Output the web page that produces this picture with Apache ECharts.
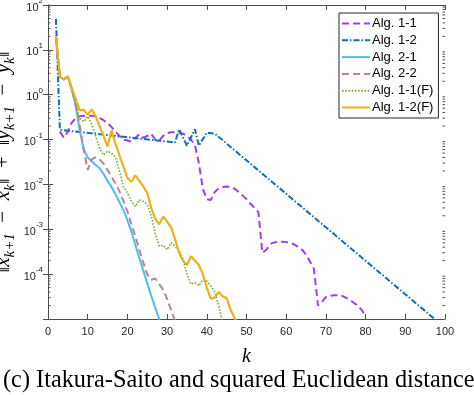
<!DOCTYPE html>
<html>
<head>
<meta charset="utf-8">
<script src="https://cdn.jsdelivr.net/npm/echarts@6/dist/echarts.min.js"></script>
<style>html,body{margin:0;padding:0;background:#fff}#c{width:474px;height:395px}</style>
</head>
<body>
<div id="c"></div>
<script>
// ---- data (k, value) ----
const seriesNames = ['Alg. 1-1', 'Alg. 1-2', 'Alg. 2-1', 'Alg. 2-2', 'Alg. 1-1(F)', 'Alg. 1-2(F)'];

const k_a11 = [3,4,5,6,7,8,9,10,11,12,13,14,15,16,17,18,19,20,21,22,23,24,25,26,27,28,29,30,31,32,33,34,35,36,37,38,39,40,41,42,43,44,45,46,47,48,49,50,51,52,53,54,55,56,57,58,59,60,61,62,63,64,65,66,67,68,69,70,71,72,73,74,75,76,77,78,79,80];
const v_a11 = [0.15,0.11,0.15,0.24,0.3,0.33,0.34,0.34,0.34,0.33,0.3,0.27,0.23,0.19,0.15,0.12,0.1,0.095,0.09,0.11,0.13,0.11,0.12,0.135,0.1,0.095,0.12,0.14,0.145,0.145,0.14,0.135,0.12,0.1,0.075,0.03,0.008,0.0047,0.0045,0.0068,0.0082,0.0088,0.009,0.0088,0.008,0.0068,0.0057,0.0047,0.0037,0.003,0.0024,0.0003,0.00035,0.00047,0.00051,0.00053,0.00053,0.00052,0.0005,0.00046,0.0004,0.00035,0.00027,0.00019,0.00013,0.00002,0.000024,0.000031,0.000033,0.000034,0.000034,0.000033,0.00003,0.000027,0.000023,0.00002,0.000016,0.0000115];

const k_a12 = [2,3,32,33,35,37,38,40,42,98];
const v_a12 = [49,0.165,0.086,0.17,0.073,0.17,0.073,0.143,0.136,0.000009];

const k_a21 = [2,3,4,5,6,7,8,9,10,11,12,13,14,15,16,17,18,19,20,21,22,23,24,25,26,27,28,29];
const v_a21 = [19.5,2.5,2.2,2.5,1.3,0.55,0.16,0.06,0.04,0.033,0.027,0.023,0.017,0.012,0.0088,0.006,0.004,0.0027,0.0016,0.0009,0.00045,0.00023,0.00012,0.000063,0.000033,0.000018,0.00001,0.0000055];

const k_a22 = [2,3,4,5,6,7,8,9,10,11,12,13,14,15,16,17,18,19,20,21,22,23,24,25,26,27,28,29,30,31,32];
const v_a22 = [19.5,2.5,2.2,2.5,1.3,0.6,0.2,0.06,0.021,0.036,0.04,0.036,0.029,0.021,0.015,0.0105,0.007,0.0043,0.0025,0.0013,0.0007,0.00035,0.00018,0.0001,0.000075,0.00008,0.00006,0.000045,0.000028,0.000016,0.000009];

const k_a11f = [2,3,4,5,6,7,8,9,10,11,12,13,14,15,16,17,18,19,20,21,22,23,24,25,26,27,28,29,30,31,32,33,34,35,36,37,38,39,40,41,42,43,44];
const v_a11f = [19.5,2.5,2.2,2.5,1.3,0.65,0.3,0.25,0.33,0.22,0.12,0.065,0.045,0.055,0.05,0.04,0.02,0.009,0.0065,0.0042,0.0032,0.0045,0.0042,0.0036,0.002,0.0008,0.00042,0.00044,0.00035,0.0005,0.00042,0.00033,0.00022,0.0001,0.00006,0.000065,0.000055,0.000075,0.00007,0.000055,0.00004,0.00002,0.000008];

const k_a12f = [2,3,4,5,6,7,8,9,10,11,12,13,14,15,16,17,18,19,20,21,22,23,24,25,26,27,28,29,30,31,32,33,34,35,36,37,38,39,40,41,42,43,44,45,46,47,48];
const v_a12f = [19.8,2.5,2.2,2.6,1.4,0.8,0.45,0.46,0.36,0.47,0.33,0.2,0.12,0.07,0.16,0.08,0.045,0.025,0.014,0.0115,0.016,0.012,0.009,0.0065,0.003,0.0017,0.0013,0.0019,0.0015,0.0011,0.0006,0.0003,0.0002,0.00016,0.00025,0.0002,0.00016,0.0001,0.00005,0.000028,0.00003,0.00004,0.000032,0.000029,0.000016,0.0000105,0.000007];

const xTicks = [0,10,20,30,40,50,60,70,80,90,100];
const yMin = 1e-5, yMax = 1e2;
const yDecades = [-5,-4,-3,-2,-1,0,1];
const minorMult = [2,3,4,5,6,7,8,9];

// ---- build ----
function zip(ks, vs){ return ks.map((k,i)=>[k, vs[i]]); }
const dataSets = [zip(k_a11,v_a11), zip(k_a12,v_a12), zip(k_a21,v_a21), zip(k_a22,v_a22), zip(k_a11f,v_a11f), zip(k_a12f,v_a12f)];
const styles = [
  {color:'#a23ef2', width:2, type:[7,4]},
  {color:'#0f6fb8', width:2, type:[6,2,1.5,2]},
  {color:'#4dbeee', width:2, type:'solid'},
  {color:'#bf8291', width:2, type:[7,4]},
  {color:'#77ac30', width:1.6, type:[1.6,1.6]},
  {color:'#edb120', width:2.2, type:'solid'}
];
const minorVals = [];
yDecades.forEach(e => minorMult.forEach(m => minorVals.push([0, m * Math.pow(10, e)])));

const axisCol = '#4d4d4d';
const labelCol = '#262626';

function yLab(v){
  const e = Math.round(Math.log10(v));
  if (e <= -5) return '';
  return '{b|10}{s|' + e + '}';
}

const chart = echarts.init(document.getElementById('c'), null, {renderer:'canvas'});
chart.setOption({
  animation: false,
  backgroundColor: '#fff',
  grid: {left:48, top:5, width:397, height:314, containLabel:false, outerBoundsMode:'none'},
  legend: {
    orient:'vertical', left:339, top:13,
    data: seriesNames,
    itemWidth:28, itemHeight:14, itemGap:3.8,
    padding:[4,5,4,2],
    itemStyle:{opacity:0},
    borderColor:'#262626', borderWidth:1, backgroundColor:'#fff',
    textStyle:{fontFamily:'Liberation Sans', fontSize:13, color:'#000', padding:[0,0,0,-3]}
  },
  xAxis: [{
    type:'value', min:0, max:100, interval:10, position:'bottom',
    axisLine:{lineStyle:{color:axisCol, width:1}},
    axisTick:{inside:true, length:5, lineStyle:{color:axisCol}},
    axisLabel:{fontFamily:'Liberation Sans', fontSize:11, color:labelCol, margin:7},
    splitLine:{show:false},
    name:'k', nameLocation:'middle', nameGap:28, nameMoveOverlap:false,
    nameTextStyle:{fontFamily:'Liberation Serif', fontStyle:'italic', fontSize:20, color:'#000'}
  },{
    type:'value', min:0, max:100, interval:10, position:'top',
    axisLine:{lineStyle:{color:axisCol, width:1}},
    axisTick:{inside:true, length:5, lineStyle:{color:axisCol}},
    axisLabel:{show:false}, splitLine:{show:false}
  }],
  yAxis: [{
    type:'log', logBase:10, min:yMin, max:yMax, splitNumber:7, position:'left',
    axisLine:{show:true, lineStyle:{color:axisCol, width:1}},
    axisTick:{show:true, inside:true, length:5, lineStyle:{color:axisCol}},
    axisLabel:{formatter:yLab, margin:5, showMinLabel:true,
      rich:{
        b:{fontFamily:'Liberation Sans', fontSize:11, color:labelCol, verticalAlign:'bottom', lineHeight:16},
        s:{fontFamily:'Liberation Sans', fontSize:8, color:labelCol, verticalAlign:'top', lineHeight:10}
      }},
    splitLine:{show:false},
    name:'‖{i|x}{s|k+1}  −  {i|x}{s|k}‖  +  ‖{i|y}{s|k+1}  −  {i|y}{s|k}‖',
    nameLocation:'middle', nameGap:30, nameMoveOverlap:false,
    nameTextStyle:{fontFamily:'Liberation Serif', fontSize:21, color:'#000',
      rich:{
        i:{fontFamily:'Liberation Serif', fontStyle:'italic', fontSize:21, color:'#000'},
        s:{fontFamily:'Liberation Serif', fontStyle:'italic', fontSize:15, color:'#000', padding:[15,0,0,0]}
      }}
  },{
    type:'log', logBase:10, min:yMin, max:yMax, splitNumber:7, position:'right',
    axisLine:{show:true, lineStyle:{color:axisCol, width:1}},
    axisTick:{show:true, inside:true, length:5, lineStyle:{color:axisCol}},
    axisLabel:{show:false}, splitLine:{show:false}
  }],
  graphic: [{
    type:'text', left:3, top:369,
    style:{text:'(c) Itakura-Saito and squared Euclidean distance', font:'24.3px "Liberation Serif"', fill:'#000'}
  }],
  series: seriesNames.map((n,i)=>({
    name:n, type:'line', data:dataSets[i], xAxisIndex:0, yAxisIndex:0,
    symbol:'none', showSymbol:false, clip:true, smooth:false,
    color: styles[i].color,
    lineStyle:{color:styles[i].color, width:styles[i].width, type:styles[i].type},
    emphasis:{disabled:true}
  })).concat([{
    name:'minorTicks', type:'custom', xAxisIndex:0, yAxisIndex:0, data:minorVals, silent:true, clip:false,
    renderItem:function(params, api){
      const p = api.coord([0, api.value(1)]);
      const q = api.coord([100, api.value(1)]);
      return {type:'group', children:[
        {type:'line', shape:{x1:p[0], y1:p[1], x2:p[0]+2.5, y2:p[1]}, style:{stroke:axisCol, lineWidth:1}},
        {type:'line', shape:{x1:q[0], y1:q[1], x2:q[0]-2.5, y2:q[1]}, style:{stroke:axisCol, lineWidth:1}}
      ]};
    }
  }])
});
</script>
</body>
</html>
